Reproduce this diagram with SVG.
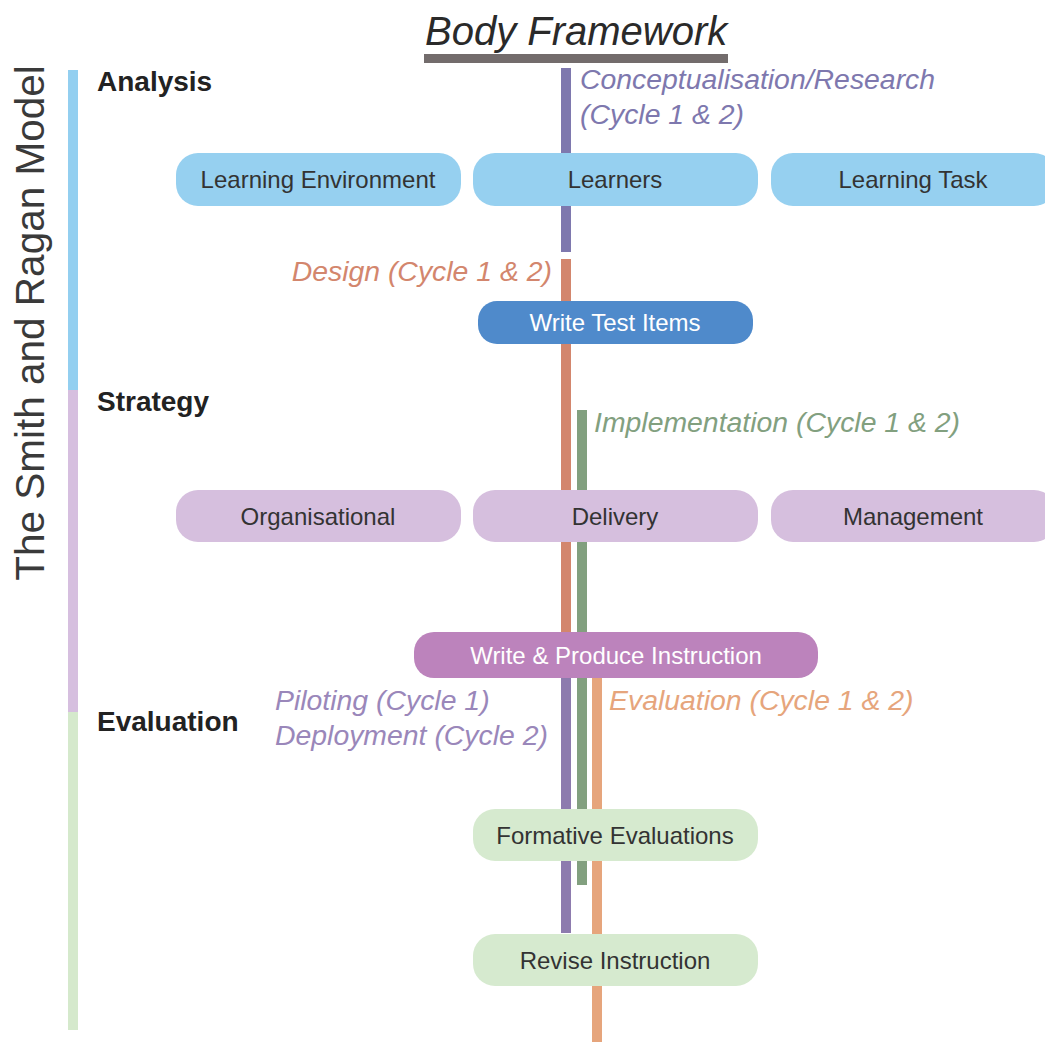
<svg xmlns="http://www.w3.org/2000/svg" width="1045" height="1042" viewBox="0 0 1045 1042">
  <style>
    text { font-family: "Liberation Sans", Arial, sans-serif; }
    .title { font-size: 40px; font-style: italic; fill: #2a2a2a; }
    .model { font-size: 40.5px; fill: #3a3a3a; }
    .phase { font-size: 28px; font-weight: bold; fill: #222; }
    .stage { font-size: 28.4px; font-style: italic; }
    .lbl { font-size: 24px; fill: #333; text-anchor: middle; }
    .lbl-w { font-size: 24px; fill: #ffffff; text-anchor: middle; }
    .analysis { fill: #96d0f0; }
    .strategy { fill: #d6bfde; }
    .evaluation { fill: #d6eacf; }
  </style>

  <rect width="1045" height="1042" fill="#ffffff"/>

  <!-- title -->
  <g id="title">
    <text class="title" x="425" y="45">Body Framework</text>
    <rect x="424" y="54" width="304" height="9" fill="#736c6c"/>
  </g>

  <!-- side band for the model phases -->
  <g id="model-band">
    <text class="model" transform="translate(44,323) rotate(-90)" text-anchor="middle">The Smith and Ragan Model</text>
    <rect x="68" y="70" width="10" height="320" fill="#93cff0"/>
    <rect x="68" y="390" width="10" height="322" fill="#d6bfdf"/>
    <rect x="68" y="712" width="10" height="318" fill="#d5e9cc"/>
  </g>

  <!-- phase headings -->
  <g id="phase-analysis"><text class="phase" x="97" y="91">Analysis</text></g>
  <g id="phase-strategy"><text class="phase" x="97" y="411">Strategy</text></g>
  <g id="phase-evaluation"><text class="phase" x="97" y="731">Evaluation</text></g>

  <!-- project stage tracks -->
  <g id="connectors">
    <rect x="561" y="68" width="10" height="184" fill="#7e78ae"/>
    <rect x="561" y="259" width="10" height="375" fill="#d3866d"/>
    <rect x="577" y="410" width="10" height="475" fill="#82a07f"/>
    <rect x="561" y="676" width="10" height="257" fill="#8d7bae"/>
    <rect x="592" y="676" width="10" height="366" fill="#e6a57c"/>
  </g>

  <!-- stage labels -->
  <g id="stage-conceptualisation" fill="#7e78ae">
    <text class="stage" x="580" y="89">Conceptualisation/Research</text>
    <text class="stage" x="580" y="124">(Cycle 1 &amp; 2)</text>
  </g>
  <g id="stage-design" fill="#d3866d">
    <text class="stage" x="552" y="281" text-anchor="end">Design (Cycle 1 &amp; 2)</text>
  </g>
  <g id="stage-implementation" fill="#82a07f">
    <text class="stage" x="594" y="432">Implementation (Cycle 1 &amp; 2)</text>
  </g>
  <g id="stage-piloting" fill="#9a87ba">
    <text class="stage" x="275" y="710">Piloting (Cycle 1)</text>
    <text class="stage" x="275" y="745">Deployment (Cycle 2)</text>
  </g>
  <g id="stage-evaluation" fill="#e6a57c">
    <text class="stage" x="609" y="710">Evaluation (Cycle 1 &amp; 2)</text>
  </g>

  <!-- analysis nodes -->
  <g id="learning-environment">
    <rect class="analysis" x="176" y="153" width="285" height="53" rx="22"/>
    <text class="lbl" x="318" y="188">Learning Environment</text>
  </g>
  <g id="learners">
    <rect class="analysis" x="473" y="153" width="285" height="53" rx="22"/>
    <text class="lbl" x="615" y="188">Learners</text>
  </g>
  <g id="learning-task">
    <rect class="analysis" x="771" y="153" width="285" height="53" rx="22"/>
    <text class="lbl" x="913" y="188">Learning Task</text>
  </g>

  <g id="write-test-items">
    <rect x="478" y="301" width="275" height="43" rx="19" fill="#4f8acb"/>
    <text class="lbl-w" x="615" y="331">Write Test Items</text>
  </g>

  <!-- strategy nodes -->
  <g id="organisational">
    <rect class="strategy" x="176" y="490" width="285" height="52" rx="22"/>
    <text class="lbl" x="318" y="524.5">Organisational</text>
  </g>
  <g id="delivery">
    <rect class="strategy" x="473" y="490" width="285" height="52" rx="22"/>
    <text class="lbl" x="615" y="524.5">Delivery</text>
  </g>
  <g id="management">
    <rect class="strategy" x="771" y="490" width="285" height="52" rx="22"/>
    <text class="lbl" x="913" y="524.5">Management</text>
  </g>

  <g id="write-produce-instruction">
    <rect x="414" y="632" width="404" height="46" rx="20" fill="#bc83bc"/>
    <text class="lbl-w" x="616" y="663.5">Write &amp; Produce Instruction</text>
  </g>

  <!-- evaluation nodes -->
  <g id="formative-evaluations">
    <rect class="evaluation" x="473" y="809" width="285" height="52" rx="22"/>
    <text class="lbl" x="615" y="843.5">Formative Evaluations</text>
  </g>
  <g id="revise-instruction">
    <rect class="evaluation" x="473" y="934" width="285" height="52" rx="22"/>
    <text class="lbl" x="615" y="968.5">Revise Instruction</text>
  </g>
</svg>
